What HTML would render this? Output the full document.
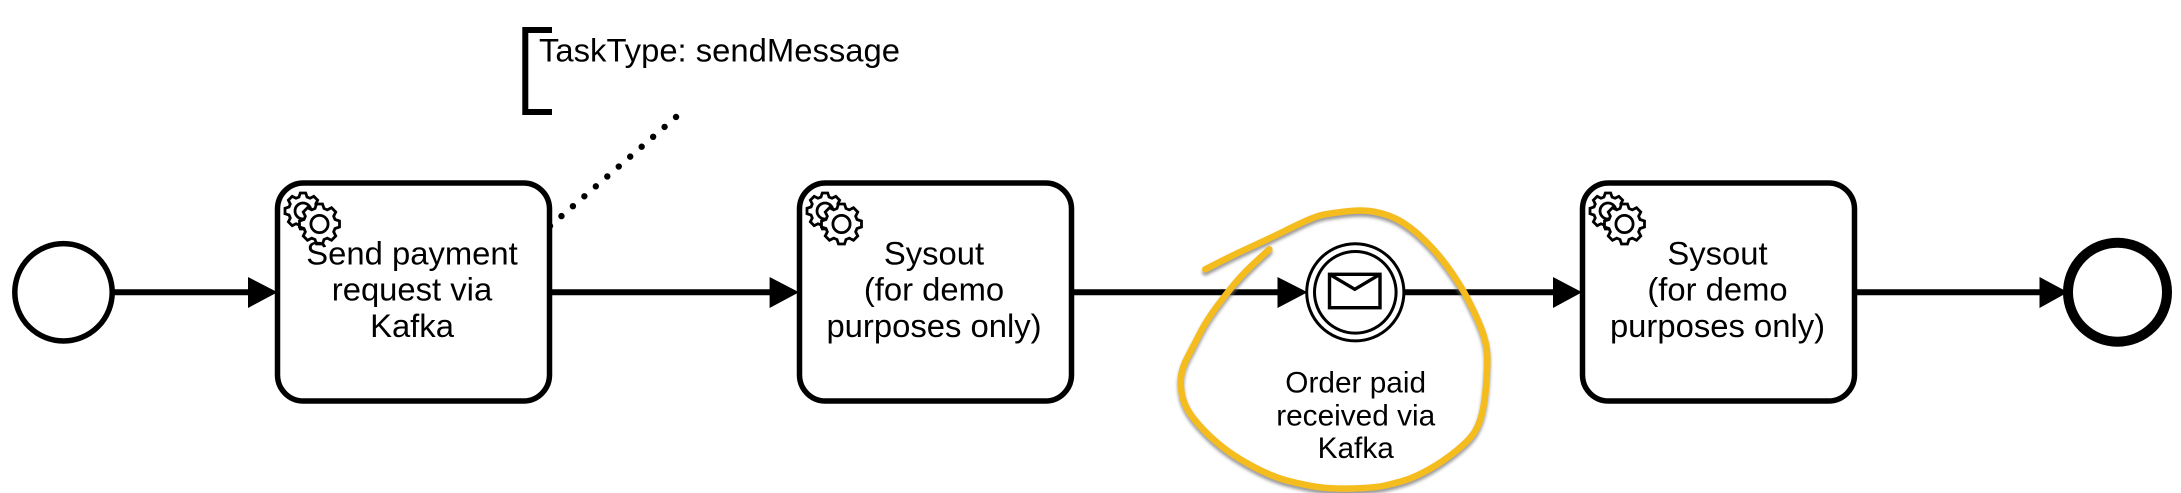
<!DOCTYPE html>
<html>
<head>
<meta charset="utf-8">
<style>
html,body{margin:0;padding:0;background:#fff;width:2181px;height:493px;overflow:hidden}
svg{display:block}
text{font-family:"Liberation Sans",Arial,sans-serif;fill:#000;text-anchor:middle}
</style>
</head>
<body>
<svg width="2181" height="493" viewBox="0 0 2181 493" xmlns="http://www.w3.org/2000/svg">
<defs>
<polygon id="gp" points="15.5,-4.5 20,-3 20,3 15.5,4.5 14.14,7.78 16.26,12.02 12.02,16.26 7.78,14.14 4.5,15.5 3,20 -3,20 -4.5,15.5 -7.78,14.14 -12.02,16.26 -16.26,12.02 -14.14,7.78 -15.5,4.5 -20,3 -20,-3 -15.5,-4.5 -14.14,-7.78 -16.26,-12.02 -12.02,-16.26 -7.78,-14.14 -4.5,-15.5 -3,-20 3,-20 4.5,-15.5 7.78,-14.14 12.02,-16.26 16.26,-12.02 14.14,-7.78"/>
<g id="gears" fill="#fff" stroke="#000">
<use href="#gp" transform="translate(303,211) scale(.9)" stroke-width="3.1"/>
<circle cx="303" cy="211" r="8" stroke-width="2.8"/>
<use href="#gp" transform="translate(319.5,224)" stroke-width="2.8"/>
<circle cx="319.5" cy="224" r="8.6" stroke-width="2.8"/>
</g>
<filter id="sh" x="-5%" y="-5%" width="110%" height="115%">
<feDropShadow dx="0" dy="3" stdDeviation="1.5" flood-color="#777" flood-opacity=".75"/>
</filter>
</defs>

<!-- flows -->
<g stroke="#000" stroke-width="6" fill="none">
<line x1="114" y1="292.3" x2="252" y2="292.3"/>
<line x1="552" y1="292.3" x2="774" y2="292.3"/>
<line x1="1074" y1="292.3" x2="1282" y2="292.3"/>
<line x1="1405" y1="292.3" x2="1558" y2="292.3"/>
<line x1="1857" y1="292.3" x2="2044" y2="292.3"/>
</g>
<g fill="#000">
<polygon points="248,277 277.5,292.3 248,308"/>
<polygon points="769.6,277 799,292.3 769.6,308"/>
<polygon points="1277.5,277 1307.5,292.3 1277.5,308"/>
<polygon points="1553,277 1582,292.3 1553,308"/>
<polygon points="2039.5,277 2068,292.3 2039.5,308"/>
</g>

<!-- start / end -->
<circle cx="63.5" cy="292.3" r="48.7" fill="#fff" stroke="#000" stroke-width="5.5"/>
<circle cx="2117.5" cy="292.2" r="49.5" fill="#fff" stroke="#000" stroke-width="10"/>

<!-- annotation -->
<path d="M552 30 H525.3 V112 H552" fill="none" stroke="#000" stroke-width="6"/>
<text x="719.5" y="61.5" font-size="32.8">TaskType: sendMessage</text>
<line x1="550" y1="226" x2="678" y2="115.3" stroke="#000" stroke-width="6.4" stroke-linecap="round" stroke-dasharray="0 15.15"/>

<!-- tasks -->
<rect x="277.5" y="183" width="272" height="218" rx="26" fill="#fff" stroke="#000" stroke-width="5.5"/>
<rect x="799.5" y="183" width="272" height="218" rx="26" fill="#fff" stroke="#000" stroke-width="5.5"/>
<rect x="1582.5" y="183" width="272" height="218" rx="26" fill="#fff" stroke="#000" stroke-width="5.5"/>
<use href="#gears"/>
<use href="#gears" x="522"/>
<use href="#gears" x="1305"/>

<g font-size="32.8">
<text x="412" y="264.5">Send payment</text>
<text x="412" y="300.7">request via</text>
<text x="412" y="337">Kafka</text>
<text x="934" y="264.5">Sysout</text>
<text x="934" y="300.7">(for demo</text>
<text x="934" y="337">purposes only)</text>
<text x="1717.5" y="264.5">Sysout</text>
<text x="1717.5" y="300.7">(for demo</text>
<text x="1717.5" y="337">purposes only)</text>
</g>

<!-- catch event -->
<circle cx="1355.3" cy="292.3" r="48.6" fill="#fff" stroke="#000" stroke-width="3"/>
<circle cx="1355.3" cy="292.3" r="40.8" fill="#fff" stroke="#000" stroke-width="3"/>
<rect x="1329.5" y="274.3" width="50.5" height="33.4" fill="none" stroke="#000" stroke-width="3.4"/>
<path d="M1329.5 274.3 L1354.8 289.3 L1380 274.3" fill="none" stroke="#000" stroke-width="3.4"/>
<g font-size="29.8">
<text x="1355.7" y="392.7">Order paid</text>
<text x="1355.7" y="425.3">received via</text>
<text x="1355.7" y="458">Kafka</text>
</g>

<!-- hand-drawn highlight -->
<path filter="url(#sh)" d="M1205.3 269.3 L1221 261.3 Q1236.7 253.3 1253.35 245.8 Q1270 238.3 1283.35 231.65 Q1296.7 225 1306.7 220.5 Q1316.7 216 1323.35 214.65 Q1330 213.3 1346.65 211.3 Q1363.3 209.3 1376.65 212.15 Q1390 215 1400 220.85 Q1410 226.7 1420 235.85 Q1430 245 1438.35 255 Q1446.7 265 1455 277.5 Q1463.3 290 1469.15 301.65 Q1475 313.3 1479.15 323.15 Q1483.3 333 1485.3 341.35 Q1487.3 349.7 1487.3 359.7 Q1487.3 369.7 1486.15 384.7 Q1485 399.7 1482.5 411.35 Q1480 423 1475 431.35 Q1470 439.7 1456.65 450.5 Q1443.3 461.3 1430 468.8 Q1416.7 476.3 1406.7 479.65 Q1396.7 483 1385 485.5 Q1373.3 488 1351.65 488.5 Q1330 489 1316.65 486.85 Q1303.3 484.7 1288.3 480.85 Q1273.3 477 1256.65 468.35 Q1240 459.7 1228.35 451.35 Q1216.7 443 1205.85 432.15 Q1195 421.3 1189.15 412.15 Q1183.3 403 1181.65 393 Q1180 383 1181.35 374.65 Q1182.7 366.3 1188 356.3 Q1193.3 346.3 1200 333.15 Q1206.7 320 1216.7 306.65 Q1226.7 293.3 1235 283.3 Q1243.3 273.3 1256.3 261.3 L1269.3 249.3" fill="none" stroke="#F4BC1F" stroke-width="6.5" stroke-linecap="round" stroke-linejoin="round"/>
</svg>
</body>
</html>
